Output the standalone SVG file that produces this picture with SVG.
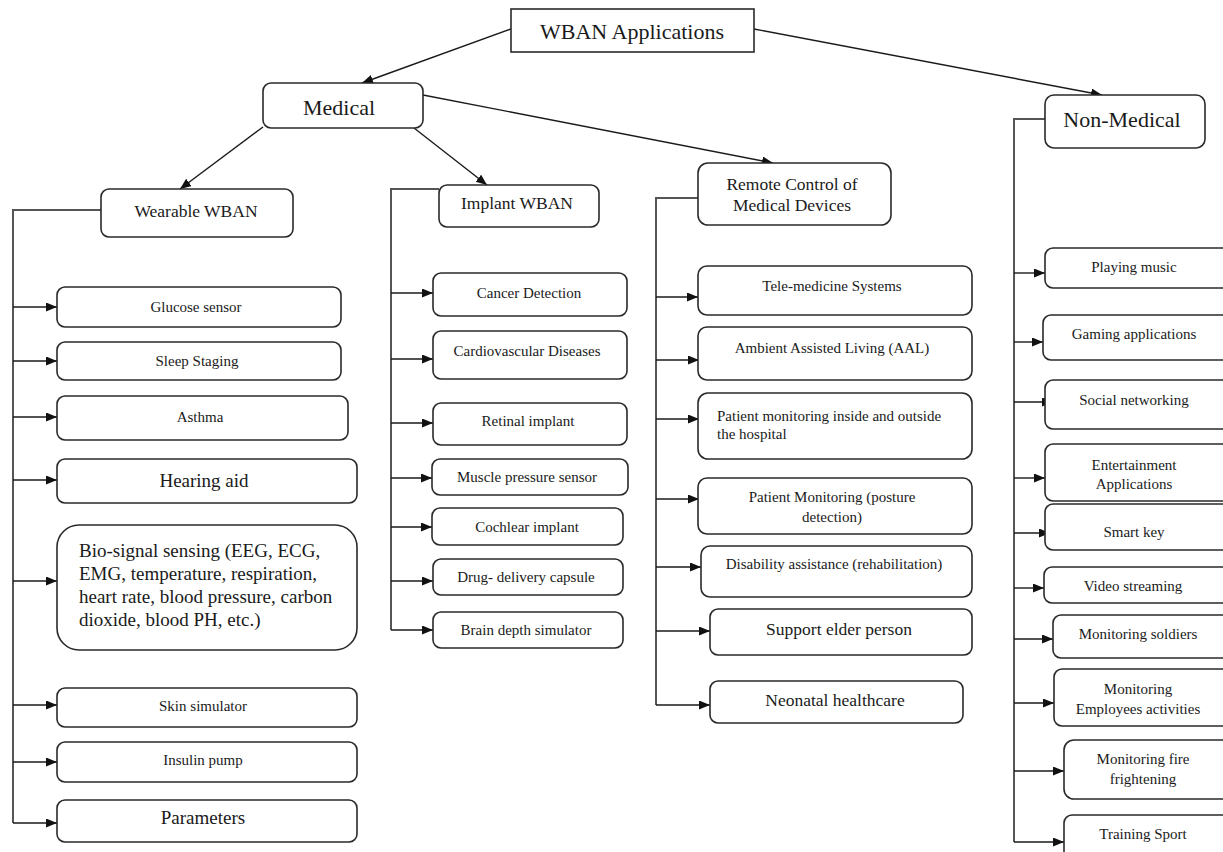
<svg xmlns="http://www.w3.org/2000/svg" width="1223" height="852" viewBox="0 0 1223 852" font-family="'Liberation Serif', 'Times New Roman', 'DejaVu Serif', serif">
<defs>
<marker id="ah" markerUnits="userSpaceOnUse" markerWidth="12" markerHeight="10" refX="11" refY="4.5" orient="auto">
<path d="M0,0 L11,4.5 L0,9 z" fill="#111"/>
</marker>
<style>
.box{fill:#fff;stroke:#2a2a2a;stroke-width:1.6}
.br{fill:none;stroke:#555;stroke-width:2}
.ar{fill:none;stroke:#1a1a1a;stroke-width:1.4;marker-end:url(#ah)}
text{fill:#1a1a1a;text-anchor:middle}
.s{font-size:15px}
.m{font-size:17.5px}
.l{font-size:19px}
.xl{font-size:22px}
.lt{text-anchor:start}
</style>
</defs>
<rect width="1223" height="852" fill="#fff"/>

<g id="connectors">
<line class="ar" x1="511" y1="29" x2="362" y2="83"/>
<line class="ar" x1="754" y1="29" x2="1102" y2="95"/>
<line class="ar" x1="263" y1="127" x2="180" y2="189"/>
<line class="ar" x1="414" y1="128" x2="487" y2="185"/>
<line class="ar" x1="423" y1="95" x2="773" y2="163"/>
<path class="br" d="M101,210 H13 V823"/>
<path class="br" d="M439,189 H391 V630"/>
<path class="br" d="M698,198 H656 V705"/>
<path class="br" d="M1045,119 H1014 V842"/>
<line class="ar" x1="13" y1="307" x2="57" y2="307"/>
<line class="ar" x1="13" y1="361" x2="57" y2="361"/>
<line class="ar" x1="13" y1="417" x2="57" y2="417"/>
<line class="ar" x1="13" y1="480" x2="57" y2="480"/>
<line class="ar" x1="13" y1="581" x2="57" y2="581"/>
<line class="ar" x1="13" y1="705" x2="57" y2="705"/>
<line class="ar" x1="13" y1="762" x2="57" y2="762"/>
<line class="ar" x1="13" y1="823" x2="57" y2="823"/>
<line class="ar" x1="391" y1="293" x2="433" y2="293"/>
<line class="ar" x1="391" y1="359" x2="433" y2="359"/>
<line class="ar" x1="391" y1="423" x2="433" y2="423"/>
<line class="ar" x1="391" y1="478" x2="432" y2="478"/>
<line class="ar" x1="391" y1="527" x2="432" y2="527"/>
<line class="ar" x1="391" y1="581" x2="433" y2="581"/>
<line class="ar" x1="391" y1="630" x2="433" y2="630"/>
<line class="ar" x1="656" y1="297" x2="698" y2="297"/>
<line class="ar" x1="656" y1="360" x2="699" y2="360"/>
<line class="ar" x1="656" y1="419" x2="699" y2="419"/>
<line class="ar" x1="656" y1="499" x2="699" y2="499"/>
<line class="ar" x1="656" y1="567" x2="701" y2="567"/>
<line class="ar" x1="656" y1="631" x2="710" y2="631"/>
<line class="ar" x1="656" y1="705" x2="710" y2="705"/>
<line class="ar" x1="1014" y1="273" x2="1045" y2="273"/>
<line class="ar" x1="1014" y1="342" x2="1043" y2="342"/>
<line class="ar" x1="1014" y1="402" x2="1053" y2="402"/>
<line class="ar" x1="1014" y1="478" x2="1045" y2="478"/>
<line class="ar" x1="1014" y1="533" x2="1050" y2="533"/>
<line class="ar" x1="1014" y1="588" x2="1044" y2="588"/>
<line class="ar" x1="1014" y1="639" x2="1053" y2="639"/>
<line class="ar" x1="1014" y1="703" x2="1054" y2="703"/>
<line class="ar" x1="1014" y1="771" x2="1064" y2="771"/>
<line class="ar" x1="1014" y1="842" x2="1064" y2="842"/>
</g>

<g id="wban-applications"><rect class="box" x="511" y="9" width="243" height="43"/><text class="xl" x="632" y="39">WBAN Applications</text></g>
<g id="medical"><rect class="box" x="263" y="83" width="160" height="45" rx="8"/><text class="xl" x="339" y="115">Medical</text></g>
<g id="non-medical"><rect class="box" x="1045" y="95" width="160" height="53" rx="9"/><text class="xl" x="1122" y="127">Non-Medical</text></g>
<g id="wearable-wban"><rect class="box" x="101" y="189" width="192" height="48" rx="8"/><text class="m" x="196" y="217">Wearable WBAN</text></g>
<g id="implant-wban"><rect class="box" x="439" y="185" width="160" height="42" rx="8"/><text class="m" x="517" y="209">Implant WBAN</text></g>
<g id="remote-control"><rect class="box" x="698" y="163" width="193" height="62" rx="10"/><text class="m" x="792" y="190">Remote Control of</text><text class="m" x="792" y="211">Medical Devices</text></g>

<g id="glucose-sensor"><rect class="box" x="57" y="287" width="284" height="40" rx="8"/><text class="s" x="196" y="312">Glucose sensor</text></g>
<g id="sleep-staging"><rect class="box" x="57" y="342" width="284" height="38" rx="8"/><text class="s" x="197" y="366">Sleep Staging</text></g>
<g id="asthma"><rect class="box" x="57" y="396" width="291" height="44" rx="8"/><text class="s" x="200" y="422">Asthma</text></g>
<g id="hearing-aid"><rect class="box" x="57" y="459" width="300" height="44" rx="8"/><text class="l" x="204" y="487">Hearing aid</text></g>
<g id="bio-signal"><rect class="box" x="57" y="525" width="300" height="125" rx="22"/>
<text class="l lt" x="79" y="557">Bio-signal sensing (EEG, ECG,</text>
<text class="l lt" x="79" y="580">EMG, temperature, respiration,</text>
<text class="l lt" x="79" y="603">heart rate, blood pressure, carbon</text>
<text class="l lt" x="79" y="626">dioxide, blood PH, etc.)</text></g>
<g id="skin-simulator"><rect class="box" x="57" y="688" width="300" height="39" rx="8"/><text class="s" x="203" y="711">Skin simulator</text></g>
<g id="insulin-pump"><rect class="box" x="57" y="742" width="300" height="40" rx="8"/><text class="s" x="203" y="765">Insulin pump</text></g>
<g id="parameters"><rect class="box" x="57" y="800" width="300" height="42" rx="8"/><text class="l" x="203" y="824">Parameters</text></g>

<g id="cancer-detection"><rect class="box" x="433" y="273" width="194" height="43" rx="8"/><text class="s" x="529" y="298">Cancer Detection</text></g>
<g id="cardiovascular"><rect class="box" x="433" y="331" width="194" height="48" rx="8"/><text class="s" x="527" y="356">Cardiovascular Diseases</text></g>
<g id="retinal-implant"><rect class="box" x="433" y="403" width="194" height="42" rx="8"/><text class="s" x="528" y="426">Retinal implant</text></g>
<g id="muscle-pressure"><rect class="box" x="432" y="459" width="196" height="36" rx="8"/><text class="s" x="527" y="482">Muscle pressure sensor</text></g>
<g id="cochlear-implant"><rect class="box" x="432" y="508" width="191" height="37" rx="8"/><text class="s" x="527" y="532">Cochlear implant</text></g>
<g id="drug-delivery"><rect class="box" x="433" y="559" width="190" height="36" rx="8"/><text class="s" x="526" y="582">Drug- delivery capsule</text></g>
<g id="brain-depth"><rect class="box" x="433" y="612" width="190" height="36" rx="8"/><text class="s" x="526" y="635">Brain depth simulator</text></g>

<g id="tele-medicine"><rect class="box" x="698" y="266" width="274" height="49" rx="9"/><text class="s" x="832" y="291">Tele-medicine Systems</text></g>
<g id="aal"><rect class="box" x="698" y="327" width="274" height="53" rx="9"/><text class="s" x="832" y="353">Ambient Assisted Living (AAL)</text></g>
<g id="patient-inside-outside"><rect class="box" x="698" y="393" width="274" height="66" rx="10"/><text class="s lt" x="717" y="421">Patient monitoring inside and outside</text><text class="s lt" x="717" y="439">the hospital</text></g>
<g id="patient-posture"><rect class="box" x="698" y="478" width="274" height="56" rx="9"/><text class="s" x="832" y="502">Patient Monitoring (posture</text><text class="s" x="832" y="522">detection)</text></g>
<g id="disability"><rect class="box" x="701" y="546" width="271" height="51" rx="9"/><text class="s" x="834" y="569">Disability assistance (rehabilitation)</text></g>
<g id="support-elder"><rect class="box" x="710" y="609" width="262" height="46" rx="8"/><text class="m" x="839" y="635">Support elder person</text></g>
<g id="neonatal"><rect class="box" x="710" y="681" width="253" height="42" rx="8"/><text class="m" x="835" y="706">Neonatal healthcare</text></g>

<g id="playing-music"><rect class="box" x="1045" y="248" width="190" height="40" rx="8"/><text class="s" x="1134" y="272">Playing music</text></g>
<g id="gaming"><rect class="box" x="1043" y="315" width="192" height="45" rx="8"/><text class="s" x="1134" y="339">Gaming applications</text></g>
<g id="social"><rect class="box" x="1045" y="380" width="190" height="49" rx="8"/><text class="s" x="1134" y="405">Social networking</text></g>
<g id="entertainment"><rect class="box" x="1045" y="444" width="190" height="57" rx="8"/><text class="s" x="1134" y="470">Entertainment</text><text class="s" x="1134" y="489">Applications</text></g>
<g id="smart-key"><rect class="box" x="1045" y="504" width="190" height="46" rx="8"/><text class="s" x="1134" y="537">Smart key</text></g>
<g id="video-streaming"><rect class="box" x="1044" y="567" width="191" height="36" rx="8"/><text class="s" x="1133" y="591">Video streaming</text></g>
<g id="soldiers"><rect class="box" x="1053" y="615" width="182" height="43" rx="8"/><text class="s" x="1138" y="639">Monitoring soldiers</text></g>
<g id="employees"><rect class="box" x="1054" y="669" width="181" height="57" rx="8"/><text class="s" x="1138" y="694">Monitoring</text><text class="s" x="1138" y="714">Employees activities</text></g>
<g id="fire"><rect class="box" x="1064" y="740" width="171" height="59" rx="10"/><text class="s" x="1143" y="764">Monitoring fire</text><text class="s" x="1143" y="784">frightening</text></g>
<g id="training-sport"><rect class="box" x="1064" y="815" width="171" height="50" rx="8"/><text class="s" x="1143" y="839">Training Sport</text></g>
</svg>
